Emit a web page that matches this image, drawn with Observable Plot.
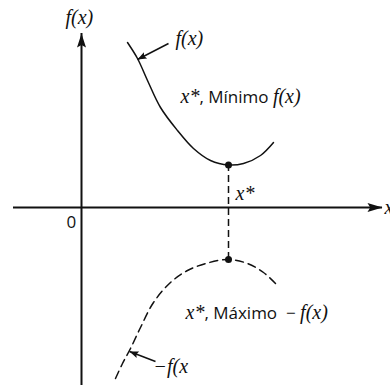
<!DOCTYPE html>
<html><head><meta charset="utf-8">
<script src="https://cdn.jsdelivr.net/npm/d3@7"></script>
<script src="https://cdn.jsdelivr.net/npm/@observablehq/plot@0.6"></script>
<style>
html,body{margin:0;padding:0;background:#fff;}
#chart svg{display:block;}
</style>
</head><body><div id="chart"></div>
<script>
// f(x): solid curve with its minimum at x*
const upperX = [4.6, 5.6, 6.6, 7.9, 9.6, 11.2, 12.9, 14.7, 16.2, 17.9, 19.2];
const upperY = [16.5, 14.9, 12.7, 10.0, 7.7, 5.9, 4.7, 4.25, 4.4, 5.2, 6.5];
// -f(x): dashed curve with its maximum at x*
const lowerX = [3.4, 4.1, 4.9, 5.9, 7.2, 8.9, 10.6, 12.6, 14.7, 16.6, 18.2, 19.4];
const lowerY = [-17.1, -15.6, -14.1, -12.0, -9.5, -7.5, -6.3, -5.55, -5.2, -5.6, -6.5, -7.6];
// x* and the extreme values
const xStar = 14.7;
const extremeY = [4.25, -5.2];
// axes extents
const xAxisExtent = [-6.8, 30.1];
const yAxisExtent = [-17.8, 17.4];
// callout arrows (tail -> tip)
const calloutX1 = [8.7, 7.4];
const calloutY1 = [16.4, -15.4];
const calloutX2 = [5.6, 4.8];
const calloutY2 = [14.8, -14.4];
// labels: parts as [text, italic]
const labelParts = [
  [["f(x)", true]],
  [["f(x)", true]],
  [["x*", true], [", Mínimo ", false], ["f(x)", true]],
  [["x*", true]],
  [["0", false]],
  [["x", true]],
  [["x*", true], [", Máximo\u00A0 − ", false], ["f(x)", true]],
  [["−f(x", true]]
];
const labelX = [-1.6, 9.4, 9.9, 15.4, -1.5, 30.3, 10.4, 7.2];
const labelY = [18.9, 16.8, 11.0, 1.3, -1.5, -0.1, -10.6, -16.0];

const labelText = labelParts.map(p => p.map(q => q[0]).join(""));
const labels = labelText.map((t, i) => ({t, i, x: labelX[i], y: labelY[i]}));
const upper = upperX.map((x, i) => ({x, y: upperY[i]}));
const lower = lowerX.map((x, i) => ({x, y: lowerY[i]}));
const callouts = calloutX1.map((x1, i) => ({x1, y1: calloutY1[i], x2: calloutX2[i], y2: calloutY2[i]}));

const W = 390, H = 385;
const xDomain = [-8.1, 30.9], yDomain = [-17.8, 20.7];
const kx = W / (xDomain[1] - xDomain[0]), ky = H / (yDomain[1] - yDomain[0]);

function head(angleDeg, L, w) {
  const a = angleDeg * Math.PI / 180, c = Math.cos(a), s = Math.sin(a);
  const pts = [[0, 0], [w / 2, L], [0, L * 0.82], [-w / 2, L]].map(([px, py]) => [px * c - py * s, px * s + py * c]);
  return {draw(ctx) { ctx.moveTo(pts[0][0], pts[0][1]); for (let i = 1; i < pts.length; i++) ctx.lineTo(pts[i][0], pts[i][1]); ctx.closePath(); }};
}
function angleOf(c) {
  const vx = (c.x2 - c.x1) * kx, vy = -(c.y2 - c.y1) * ky;
  return Math.atan2(vx, -vy) * 180 / Math.PI;
}

const marks = [
  Plot.ruleY([0], {x1: xAxisExtent[0], x2: xAxisExtent[1], stroke: "#111", strokeWidth: 2}),
  Plot.ruleX([0], {y1: yAxisExtent[0], y2: yAxisExtent[1], stroke: "#111", strokeWidth: 2}),
  Plot.dot([{x: xAxisExtent[1], y: 0}], {x: "x", y: "y", symbol: head(90, 15, 9), fill: "#111", stroke: "none"}),
  Plot.dot([{x: 0, y: yAxisExtent[1]}], {x: "x", y: "y", symbol: head(0, 14, 9), fill: "#111", stroke: "none"}),
  Plot.line(upper, {x: "x", y: "y", curve: "catmull-rom", stroke: "#111", strokeWidth: 1.5}),
  Plot.line(lower, {x: "x", y: "y", curve: "catmull-rom", stroke: "#111", strokeWidth: 1.5, strokeDasharray: "8,5"}),
  Plot.ruleX([xStar], {y1: extremeY[1], y2: extremeY[0], stroke: "#111", strokeWidth: 1.5, strokeDasharray: "7,4"}),
  Plot.dot(extremeY.map(y => ({x: xStar, y})), {x: "x", y: "y", r: 3.5, fill: "#111", stroke: "none"}),
  Plot.link(callouts, {x1: "x1", y1: "y1", x2: "x2", y2: "y2", stroke: "#111", strokeWidth: 1.5}),
  ...callouts.map(c => Plot.dot([c], {x: "x2", y: "y2", symbol: head(angleOf(c), 9, 7), fill: "#111", stroke: "none"})),
  Plot.text(labels, {x: "x", y: "y", text: "t", textAnchor: "start", fontFamily: "Open Sans", fontSize: 17, fill: "#111"})
];

const svg = Plot.plot({
  width: W, height: H, margin: 0,
  x: {domain: xDomain, axis: null},
  y: {domain: yDomain, axis: null},
  style: {background: "#fff", overflow: "visible"},
  marks
});

const NS = "http://www.w3.org/2000/svg";
const texts = Array.from(svg.querySelectorAll("text"));
texts.forEach((t, i) => {
  const idx = labelText.indexOf(t.textContent);
  const parts = labelParts[idx >= 0 ? idx : i];
  if (!parts) return;
  while (t.firstChild) t.removeChild(t.firstChild);
  for (const [s, it] of parts) {
    const ts = document.createElementNS(NS, "tspan");
    ts.textContent = s;
    if (it) {
      ts.setAttribute("font-family", "Liberation Serif");
      ts.setAttribute("font-style", "italic");
      ts.setAttribute("font-size", "20");
      ts.style.fontFamily = "'Liberation Serif', 'DejaVu Serif', serif";
      ts.style.fontStyle = "italic";
      ts.style.fontSize = "20px";
    }
    t.appendChild(ts);
  }
});
document.getElementById("chart").appendChild(svg);
</script>
</body></html>
